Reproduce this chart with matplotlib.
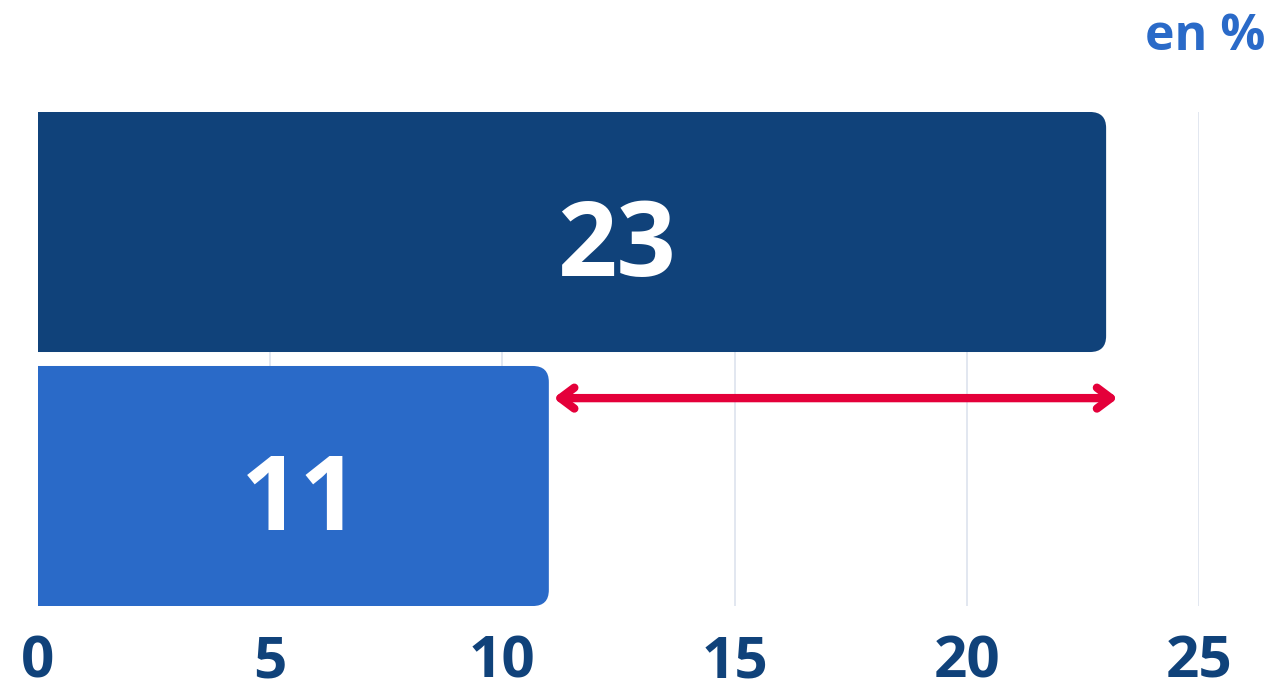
import matplotlib.pyplot as plt
from matplotlib.patches import FancyBboxPatch

values = [23, 11]
bar_colors = ['#10427a', '#2a6ac8']
ticks = [0, 5, 10, 15, 20, 25]
label_x = [12.46, 5.64]
gap_start, gap_end = 11.1, 23.25

dark = '#10427a'
plt.rcParams['font.family'] = ['Open Sans', 'DejaVu Sans']

fig = plt.figure(figsize=(12.72, 6.86), dpi=100)
ax = fig.add_axes([38 / 1272, 80 / 686, 1161 / 1272, 494 / 686])

ax.set_xlim(0, 25)
ax.set_ylim(1.4724, -0.4724)

# light vertical grid
for t in ticks[1:]:
    ax.axvline(t, color='#dde3ee', lw=1.2, zorder=0)

# bars with rounded right corners (left corners fall outside the axes)
bars = ax.barh(range(len(values)), values, height=0.945, color=bar_colors)
radius = 0.345
aspect = (1 / 254) / (1 / 46.44)
for rect, c in zip(bars, bar_colors):
    x0, y0 = rect.get_x(), rect.get_y()
    w, h = rect.get_width(), rect.get_height()
    rect.set_visible(False)
    p = FancyBboxPatch((x0 - 1, y0), w + 1, h,
                       boxstyle=f'round,pad=0,rounding_size={radius}',
                       mutation_aspect=aspect, fc=c, ec='none', zorder=2)
    p.set_clip_path(ax.patch)
    ax.add_patch(p)

for i, (v, lx) in enumerate(zip(values, label_x)):
    ax.text(lx, i + 0.173, str(v), ha='center', va='baseline', color='white',
            fontsize=75, fontweight='bold', zorder=3)

# difference arrow
ax.annotate('', xy=(gap_start, 0.654), xytext=(gap_end, 0.654),
            arrowprops=dict(arrowstyle='<->,head_length=1.0,head_width=0.75',
                            color='#e4003a', lw=6, capstyle='round',
                            joinstyle='round', shrinkA=0, shrinkB=0),
            zorder=4, annotation_clip=False)

ax.set_xticks(ticks)
ax.set_xticklabels([str(t) for t in ticks])
ax.tick_params(axis='x', length=0, pad=20, labelsize=42, labelcolor=dark)
for lab in ax.get_xticklabels():
    lab.set_fontweight('bold')
ax.set_yticks([])
for s in ax.spines.values():
    s.set_visible(False)

fig.text(1265 / 1272, 1 - 50 / 686, 'en %', ha='right', va='baseline',
         color='#2a6ac8', fontsize=36, fontweight='bold')

fig.savefig('out.png', dpi=100)
